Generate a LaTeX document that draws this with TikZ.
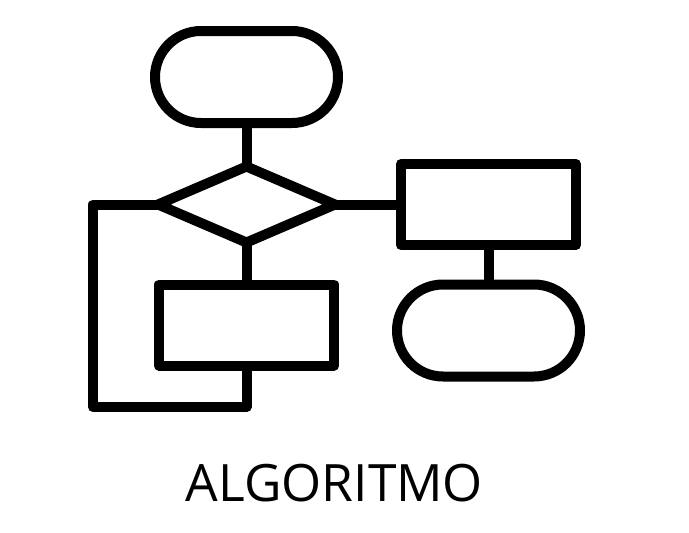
\documentclass[tikz,border=0pt]{standalone}
\usepackage{fontspec}
\setmainfont{Open Sans}
\usetikzlibrary{shapes.geometric, positioning}

\begin{document}
\begin{tikzpicture}[x=1pt, y=-1pt, line width=10pt, line join=round,
        terminal/.style={draw, rectangle, rounded corners=46pt, minimum width=183pt, minimum height=92pt, inner sep=0pt, outer sep=0pt},
        block/.style={draw, rectangle, minimum width=175pt, minimum height=81pt, inner sep=0pt, outer sep=0pt},
        decision/.style={draw, diamond, line join=miter, minimum width=177pt, minimum height=76pt, inner sep=0pt, outer sep=0pt},
        line/.style={draw, line cap=butt},
        every node/.style={align=center}]
        \useasboundingbox (0,0) rectangle (689,533);

        % Nodes
        \node [terminal] (start) at (246.5,77) {};
        \node [decision] (decide) at (246.5,204.5) {};
        \node [block] (task) at (246.5,325) {};
        \node [block] (proc) at (488.5,204.5) {};
        \node [terminal] (stop) at (488.5,330.5) {};
        \coordinate (loop) at (93,407);
        \node [anchor=base, font=\fontsize{51.5}{60}\selectfont] (title) at (334.5,501) {ALGORITMO};

        % Lines
        \draw [line] (start) -- (decide);
        \draw [line] (decide) -- (task);
        \draw [line] (decide.east) -- (proc.west);
        \draw [line] (proc) -- (stop);
        \draw [line] (task.south) |- (loop) |- (decide.west);
\end{tikzpicture}
\end{document}
